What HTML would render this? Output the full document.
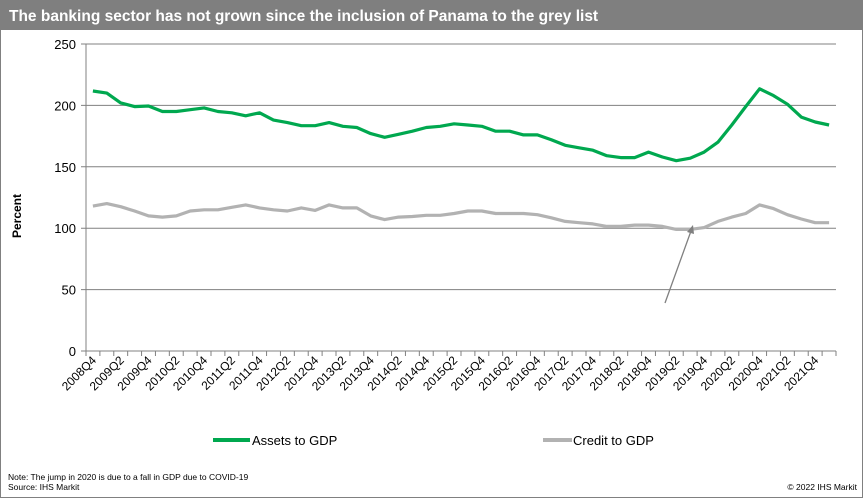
<!DOCTYPE html>
<html><head><meta charset="utf-8"><style>
body{margin:0;background:#fff;font-family:"Liberation Sans",Arial,sans-serif;}
#wrap{position:relative;width:865px;height:500px;overflow:hidden;}
</style></head><body>
<div id="wrap">
<svg id="chart" width="865" height="500" xmlns="http://www.w3.org/2000/svg">
<rect x="0.5" y="0.5" width="862" height="497" fill="#fff" stroke="#808080"/>
<rect x="0" y="0" width="863" height="30" fill="#7f7f7f"/>
<text x="9" y="21" font-size="15.5" font-weight="bold" fill="#fff">The banking sector has not grown since the inclusion of Panama to the grey list</text>
<text transform="translate(21,216) rotate(-90)" text-anchor="middle" font-size="12" font-weight="bold">Percent</text>
<g id="grid"></g><g id="xaxis"></g><g id="series"></g>
<line x1="665" y1="303" x2="691" y2="231" stroke="#808080" stroke-width="1.3"/>
<polygon points="693,225 694,234 687,232" fill="#808080"/>
<line x1="213" y1="440" x2="250" y2="440" stroke="#00a84f" stroke-width="4"/>
<text x="252" y="445" font-size="13">Assets to GDP</text>
<line x1="543" y1="440" x2="572" y2="440" stroke="#b2b2b2" stroke-width="4"/>
<text x="573" y="445" font-size="13">Credit to GDP</text>
<text x="8" y="480" font-size="8.5">Note: The jump in 2020 is due to a fall in GDP due to COVID-19</text>
<text x="8" y="490" font-size="8.5">Source: IHS Markit</text>
<text x="857" y="490" font-size="8.5" text-anchor="end">© 2022 IHS Markit</text>
</svg>
</div>
<script>
const assets=[211.7,210,202,199,199.5,195,195,196.5,198,195,194,191.5,194,188,186,183.5,183.5,186,183,182,177,174,176.5,179,182,183,185,184,183,179,179,176,176,172,167.5,165.5,163.5,159,157.5,157.5,162,158,155,157,162,170,184,199,213.5,208,201,190.5,186.5,184];
const credit=[118,120,117.5,114,110,109,110,114,115,115,117,119,116.5,115,114,116.5,114.5,119,116.5,116.5,110,107,109,109.5,110.5,110.5,112,114,114,112,112,112,111,108.5,105.5,104.5,103.5,101.5,101.5,102.5,102.5,101.5,99,99,100.5,105.5,109,112,119,116,111,107.5,104.5,104.5];
const yTicks=[0,50,100,150,200,250];
const startYear=2008,startQ=4;
const NS="http://www.w3.org/2000/svg";
const X0=86,X1=836,Y0=351,Y1=44,YMAX=250;
const n=assets.length,cw=(X1-X0)/n;
const xs=i=>X0+cw*(i+0.5);
const ys=v=>Y0-(v/YMAX)*(Y0-Y1);
function mk(t,a,p){const e=document.createElementNS(NS,t);for(const k in a)e.setAttribute(k,a[k]);p.appendChild(e);return e;}
const grid=document.getElementById('grid');
yTicks.forEach(v=>{
 const y=ys(v);
 const l=mk('line',{x1:X0-5,x2:X1,y1:y,y2:y,stroke:'#808080','stroke-width':1},grid);
 
 
 const t=mk('text',{x:X0-10,y:y+5,'font-size':13,'text-anchor':'end'},grid);
 t.textContent=v;
 
 
});
const xa=document.getElementById('xaxis');
const ax=mk('line',{x1:X0,x2:X0,y1:Y1,y2:Y0,stroke:'#808080'},xa);


for(let i=0;i<=n;i++){
 const x=X0+cw*i;
 const tk=mk('line',{x1:x,x2:x,y1:Y0,y2:Y0+5,stroke:'#808080'},xa);
 
 
}
for(let i=0;i<n;i+=2){
 const q0=startQ-1+i,yr=startYear+Math.floor(q0/4),q=q0%4+1;
 const x=xs(i)+4,y=Y0+10;
 const t=mk('text',{x:x,y:y,'font-size':12,'text-anchor':'end',transform:`rotate(-45 ${x} ${y})`},xa);
 t.textContent=yr+'Q'+q;
 
 
}
const sg=document.getElementById('series');
[[credit,'#b2b2b2','credit-line'],[assets,'#00a84f','assets-line']].forEach(([d,c,nm])=>{
 const p=mk('polyline',{points:d.map((v,i)=>xs(i).toFixed(1)+','+ys(v).toFixed(1)).join(' '),fill:'none',stroke:c,'stroke-width':3.2,'stroke-linejoin':'round'},sg);
 
 
});
</script>
</body></html>
